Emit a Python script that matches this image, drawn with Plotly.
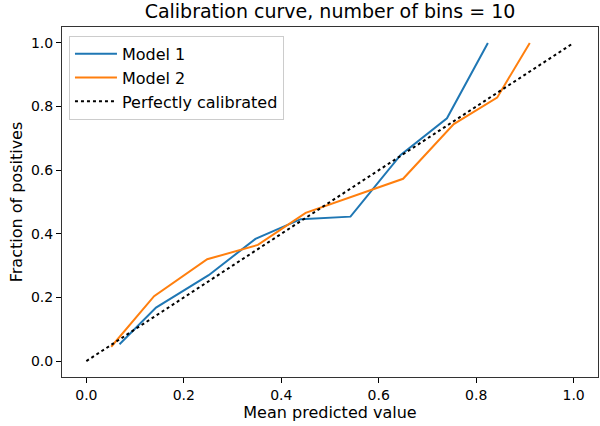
import plotly.graph_objects as go

# Calibration curve data (mean predicted value, fraction of positives)
m1_x = [0.068, 0.143, 0.251, 0.347, 0.440, 0.542, 0.645, 0.740, 0.824]
m1_y = [0.053, 0.168, 0.270, 0.384, 0.446, 0.454, 0.648, 0.763, 1.0]
m2_x = [0.051, 0.139, 0.248, 0.352, 0.450, 0.650, 0.754, 0.843, 0.910]
m2_y = [0.045, 0.204, 0.320, 0.365, 0.466, 0.573, 0.745, 0.828, 1.0]
ref_x = [0, 1]
ref_y = [0, 1]
ticks = [0.0, 0.2, 0.4, 0.6, 0.8, 1.0]

fig = go.Figure()
fig.add_trace(go.Scatter(x=m1_x, y=m1_y, mode="lines", name="Model 1",
                         line=dict(color="#1f77b4", width=2)))
fig.add_trace(go.Scatter(x=m2_x, y=m2_y, mode="lines", name="Model 2",
                         line=dict(color="#ff7f0e", width=2)))
fig.add_trace(go.Scatter(x=ref_x, y=ref_y, mode="lines", name="Perfectly calibrated",
                         line=dict(color="black", width=2, dash="dot")))

axis_style = dict(showline=True, linecolor="#333333", linewidth=1, mirror=True,
                  ticks="outside", ticklen=5, tickcolor="black", showgrid=False,
                  zeroline=False, tickvals=ticks, ticktext=[f"{t:.1f}" for t in ticks],
                  tickfont=dict(size=14, color="black"), automargin=False)

fig.update_xaxes(range=[-0.05, 1.05], title=dict(text="Mean predicted value",
                 font=dict(size=16, color="black"), standoff=2), **axis_style)
fig.update_yaxes(range=[-0.05, 1.05], title=dict(text="Fraction of positives",
                 font=dict(size=16, color="black"), standoff=4), **axis_style)

fig.update_layout(
    width=600, height=426,
    margin=dict(l=62, r=2, t=27, b=49),
    paper_bgcolor="white", plot_bgcolor="white",
    font=dict(family="DejaVu Sans", color="black"),
    title=dict(text="Calibration curve, number of bins = 10", x=0.55, xanchor="center",
               y=0.974, yanchor="middle", font=dict(size=19, color="black")),
    legend=dict(x=0.013, y=0.975, xanchor="left", yanchor="top",
                bordercolor="#cccccc", borderwidth=1, bgcolor="rgba(255,255,255,0.8)",
                font=dict(size=16, color="black"), itemwidth=42),
    showlegend=True,
)

# drop the default page margin so the figure sits at the window's corner
fig.write_html("out.html", config={"displayModeBar": False},
               post_script="document.body.style.margin='0';")
